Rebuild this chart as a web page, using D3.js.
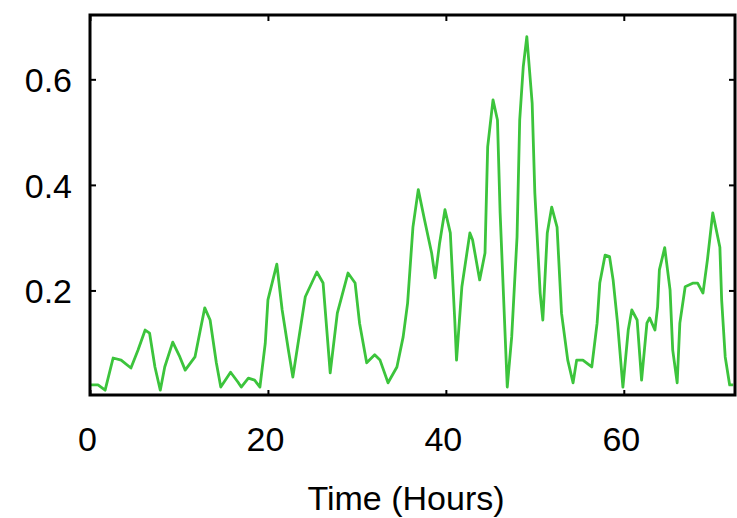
<!DOCTYPE html>
<html>
<head>
<meta charset="utf-8">
<script src="https://cdn.jsdelivr.net/npm/d3@7"></script>
<style>
  html, body { margin: 0; padding: 0; background: #fff; }
  svg { display: block; font-family: "Liberation Sans", Arial, sans-serif; }
</style>
</head>
<body>
<div id="chart"></div>
<script>
// values
const hours = [
  0, 0.9, 1.7, 2.6, 3.5, 4.6, 5.4, 6.2, 6.7, 7.3, 7.9, 8.4, 9.3, 10.1, 10.7, 11.8,
  12.4, 12.9, 13.5, 14.2, 14.7, 15.8, 16.6, 17.0, 17.8, 18.5, 19.1, 19.7, 20.0, 21.0,
  21.6, 22.3, 22.8, 24.2, 25.5, 26.2, 27.0, 27.8, 29.0, 29.8, 30.3, 31.1, 32.0, 32.6,
  33.5, 34.5, 35.2, 35.7, 36.3, 36.9, 37.6, 38.4, 38.8, 39.3, 39.9, 40.5, 41.0, 41.2,
  41.8, 42.7, 43.0, 43.8, 44.4, 44.7, 45.3, 45.8, 46.1, 46.9, 47.4, 48.0, 48.3, 48.7,
  49.1, 49.7, 50.0, 50.6, 50.9, 51.4, 51.9, 52.5, 53.0, 53.7, 54.3, 54.7, 55.4, 56.4,
  57.0, 57.3, 57.9, 58.4, 58.8, 59.3, 59.9, 60.5, 60.9, 61.5, 62.0, 62.6, 62.9, 63.5,
  63.8, 64.0, 64.6, 65.2, 65.5, 66.0, 66.3, 66.9, 67.8, 68.3, 68.9, 69.4, 70.0, 70.8,
  71.0, 71.4, 71.9, 72.3
]
const values = [
  0.021, 0.021, 0.011, 0.072, 0.068, 0.053, 0.087, 0.125, 0.119, 0.055, 0.011, 0.055, 0.102, 0.074, 0.049, 0.074,
  0.125, 0.167, 0.144, 0.063, 0.017, 0.045, 0.027, 0.017, 0.034, 0.030, 0.017, 0.100, 0.182, 0.250,
  0.163, 0.087, 0.036, 0.188, 0.235, 0.214, 0.044, 0.157, 0.233, 0.214, 0.138, 0.063, 0.078, 0.068,
  0.025, 0.055, 0.112, 0.176, 0.320, 0.391, 0.334, 0.271, 0.224, 0.290, 0.353, 0.309, 0.144, 0.068,
  0.207, 0.309, 0.296, 0.220, 0.271, 0.472, 0.561, 0.523, 0.347, 0.017, 0.112, 0.301, 0.523, 0.624,
  0.681, 0.555, 0.385, 0.195, 0.144, 0.309, 0.358, 0.320, 0.157, 0.068, 0.025, 0.068, 0.068, 0.055,
  0.138, 0.214, 0.267, 0.264, 0.220, 0.138, 0.017, 0.125, 0.163, 0.144, 0.030, 0.138, 0.148, 0.125,
  0.169, 0.239, 0.281, 0.201, 0.087, 0.025, 0.138, 0.207, 0.214, 0.214, 0.195, 0.258, 0.347, 0.282,
  0.182, 0.074, 0.021, 0.021
]
const xTicks = [0, 20, 40, 60]
const yTicks = [0.2, 0.4, 0.6]
const xLabel = 'Time (Hours)'

const width = 737
const height = 518
const margin = { top: 15, right: 2, bottom: 122, left: 90 }

const svg = d3.select('#chart')
  .append('svg')
  .attr('width', width)
  .attr('height', height)

const x = d3.scaleLinear()
  .domain([0, 72.5])
  .range([margin.left, width - margin.right])

const y = d3.scaleLinear()
  .domain([0, 0.72])
  .range([height - margin.bottom, margin.top + 1])

const axisStyle = g => {
  g.select('.domain').remove()
  g.selectAll('line').attr('stroke', '#000').attr('stroke-width', 2)
  g.selectAll('text').attr('fill', '#000').style('font-size', '34px')
}

// bottom
svg.append('g')
  .attr('transform', `translate(0,${y(0)})`)
  .call(d3.axisBottom(x).tickValues(xTicks).tickSize(-6).tickFormat(d3.format('d')))
  .call(axisStyle)
  .call(g => g.selectAll('text').attr('y', 55).attr('dy', null).attr('dx', -3))

// top
svg.append('g')
  .attr('transform', `translate(0,${margin.top})`)
  .call(d3.axisTop(x).tickValues(xTicks).tickSize(-6).tickFormat(''))
  .call(axisStyle)

// left
svg.append('g')
  .attr('transform', `translate(${margin.left},0)`)
  .call(d3.axisLeft(y).tickValues(yTicks).tickSize(-6).tickFormat(d3.format('.1f')))
  .call(axisStyle)
  .call(g => g.selectAll('text').attr('x', -18).attr('dy', '0.36em'))

// right
svg.append('g')
  .attr('transform', `translate(${width - margin.right},0)`)
  .call(d3.axisRight(y).tickValues(yTicks).tickSize(-6).tickFormat(''))
  .call(axisStyle)

// the line
const line = d3.line()
  .x((d, i) => x(hours[i]))
  .y(d => y(d))

svg.append('path')
  .datum(values)
  .attr('fill', 'none')
  .attr('stroke', '#3cc43c')
  .attr('stroke-width', 2.8)
  .attr('stroke-linejoin', 'round')
  .attr('d', line)

// frame
svg.append('rect')
  .attr('x', x.range()[0])
  .attr('y', margin.top)
  .attr('width', x.range()[1] - x.range()[0])
  .attr('height', y(0) - margin.top - 1)
  .attr('fill', 'none')
  .attr('stroke', '#000')
  .attr('stroke-width', 3)

svg.append('text')
  .attr('x', 406)
  .attr('y', 510)
  .attr('text-anchor', 'middle')
  .style('font-size', '34px')
  .attr('fill', '#000')
  .text(xLabel)
</script>
</body>
</html>
